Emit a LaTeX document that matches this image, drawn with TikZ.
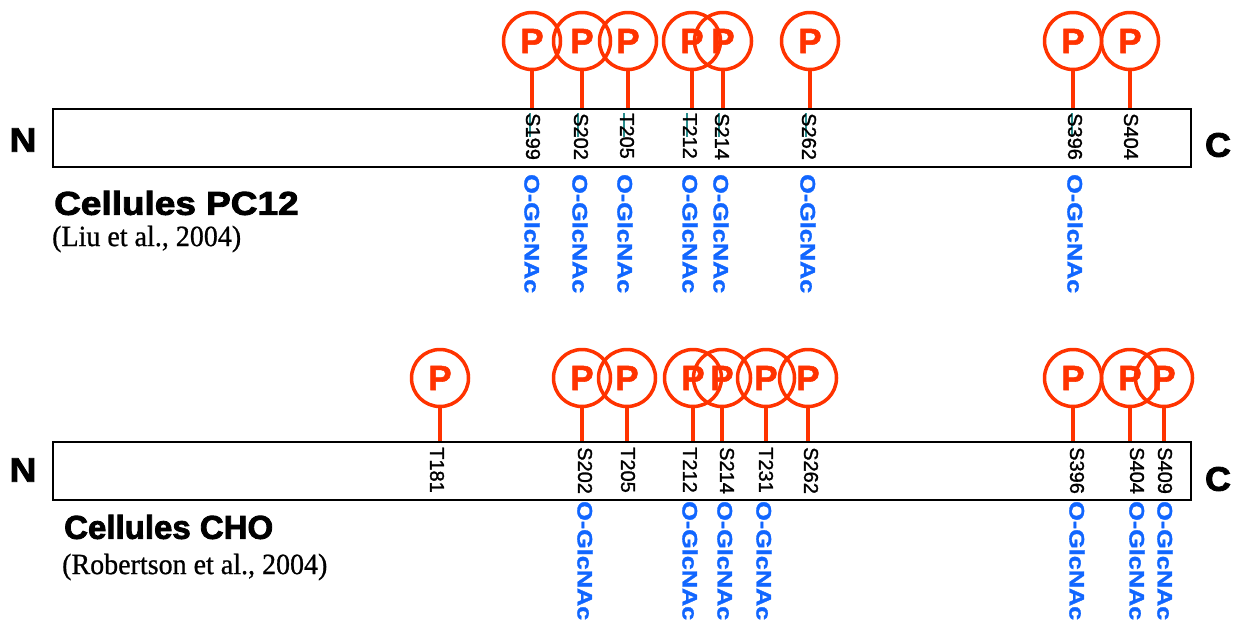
\documentclass[tikz,border=0pt]{standalone}
\usepackage{fontspec}
\setmainfont{Liberation Sans}
\newfontfamily\refserif{Liberation Serif}
\newfontfamily\heavysans[FakeBold=2.5]{Liberation Sans Bold}
\newfontfamily\midsans[FakeBold=1.5]{Liberation Sans Bold}
\newfontfamily\labsans[FakeBold=1.3]{Liberation Sans}
\newfontfamily\refheavy[FakeBold=0.8]{Liberation Serif}
\definecolor{pred}{RGB}{255,51,0}
\definecolor{pblue}{RGB}{17,102,255}
\definecolor{pteal}{RGB}{40,140,140}
\begin{document}
\begin{tikzpicture}[x=1pt,y=-1pt,
 protbox/.style={draw=black, line width=2pt, minimum width=1138pt, minimum height=58pt, inner sep=0pt, anchor=north west},
 pcirc/.style={circle, draw=pred, line width=3.5pt, minimum size=57pt, inner sep=0pt, text=pred, font=\midsans\fontsize{35}{35}\selectfont},
 stem/.style={draw=pred, line width=3.5pt},
 reslab/.style={rotate=-90, anchor=west, inner sep=0pt, font=\labsans\fontsize{20}{20}\selectfont},
 glclab/.style={rotate=-90, anchor=west, inner sep=0pt, text=pblue, font=\midsans\fontsize{21}{21}\selectfont},
 tealmark/.style={draw=pteal, line width=2.5pt},
 term/.style={inner sep=0pt, font=\heavysans\fontsize{34}{34}\selectfont},
 celltitle/.style={anchor=west, inner sep=0pt, font=\heavysans\fontsize{33}{33}\selectfont},
 reftext/.style={anchor=west, inner sep=0pt, font=\refheavy\fontsize{28}{28}\selectfont}
]
\useasboundingbox (0,0) rectangle (1236,625);
\newcommand{\glc}{\scalebox{1.2}[1]{O-GlcNAc}}

% ---------- top: PC12 ----------
\node[protbox] (box1) at (52,108) {};
\node[term] (n1) at (23,140) {\scalebox{1.1}[1]{N}};
\node[term] (c1) at (1218,145) {\scalebox{1.05}[1]{C}};
\node[celltitle] (t1) at (54,203) {\scalebox{1.12}[1]{Cellules PC12}};
\node[reftext] (r1) at (52,239) {\scalebox{1}[1.05]{(Liu et al., 2004)}};

\foreach \i/\x/\lab/\lx/\teal in {a/532/S199/533/1, b/582/S202/581/1, c/628/T205/627/1, d/692/T212/690/1, e/723/S214/722/1, f/810/S262/809/1, g/1073/S396/1075/1, h/1130/S404/1131/0}{
  \node[pcirc] (p1\i) at (\x,41) {P};
  \coordinate (s1\i) at (\x,108);
  \draw[stem] (s1\i |- p1\i.south) -- (s1\i);
  \ifnum\teal=1 \draw[tealmark] (\lx-3,113) -- (\lx-3,137); \fi
  \node[reslab] (l1\i) at (\lx,113) {\lab};
}
\foreach \i/\gx in {a/532, b/580, c/625, d/690, e/721, f/808, g/1075}{
  \node[glclab] (g1\i) at (\gx,174) {\glc};
}

% ---------- bottom: CHO ----------
\node[protbox] (box2) at (52,441) {};
\node[term] (n2) at (23,470) {\scalebox{1.1}[1]{N}};
\node[term] (c2) at (1218,479) {\scalebox{1.05}[1]{C}};
\node[celltitle] (t2) at (64,527) {Cellules CHO};
\node[reftext] (r2) at (62,567) {\scalebox{1}[1.05]{(Robertson et al., 2004)}};

\foreach \i/\x/\lab/\lx in {a/440/T181/437, b/582/S202/585, c/627/T205/628, d/693/T212/690, e/722/S214/727, f/766/T231/766, g/808/S262/811, h/1073/S396/1077, k/1130/S404/1137, m/1164/S409/1165}{
  \node[pcirc] (p2\i) at (\x,378) {P};
  \coordinate (s2\i) at (\x,441);
  \draw[stem] (s2\i |- p2\i.south) -- (s2\i);
  \node[reslab] (l2\i) at (\lx,447) {\lab};
}
\foreach \i/\gx in {b/585, d/690, e/725, f/764, h/1077, k/1137, m/1165}{
  \node[glclab] (g2\i) at (\gx,501) {\glc};
}
\end{tikzpicture}
\end{document}
